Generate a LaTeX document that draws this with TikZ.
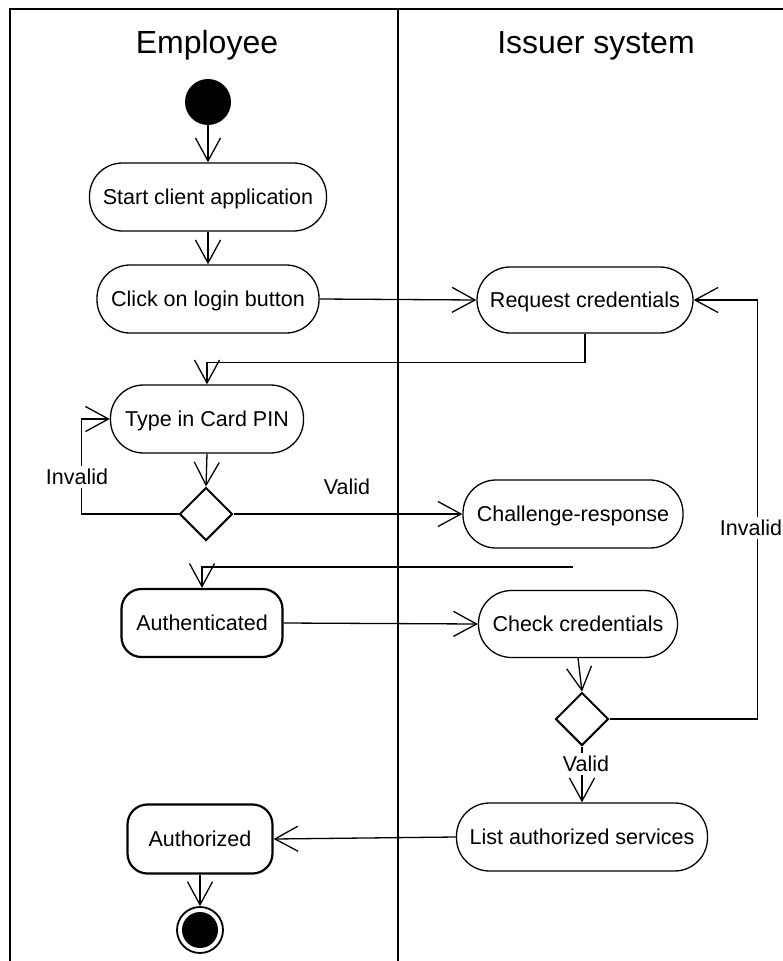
\documentclass[tikz,border=0pt]{standalone}
\usepackage{fontspec}
\setmainfont{Liberation Sans}
\usetikzlibrary{arrows.meta,shapes.geometric}

\tikzset{
  lbl/.style={font=\fontsize{21.5}{24}\selectfont, inner sep=0pt,
              text height=15.4pt, text depth=0pt},
  act/.style={lbl, draw, line width=1.3pt, rounded corners=33pt,
              minimum height=68pt},
  state/.style={lbl, draw, line width=2.2pt, rounded corners=20pt,
                minimum height=68pt},
  choice/.style={draw, diamond, line width=2pt, minimum width=53pt,
                 minimum height=53pt, inner sep=0pt},
  flow/.style={line width=1.3pt,
               -{Straight Barb[length=23pt,width=25pt,line width=1.3pt]}},
  guard/.style={lbl, fill=white, inner xsep=2pt, inner ysep=3pt},
  lane/.style={line width=2.5pt},
  title/.style={font=\fontsize{32}{36}\selectfont, inner sep=0pt, anchor=base}
}

\begin{document}
\begin{tikzpicture}[x=1pt,y=-1pt]
  \useasboundingbox (0,0) rectangle (782,961);

  % swimlanes
  \draw[lane] (10,975) -- (10,9) -- (790,9);
  \draw[lane] (398,9) -- (398,975);
  \node[title] (lane1) at (207,53) {Employee};
  \node[title] (lane2) at (596,53) {Issuer system};

  % activity nodes
  \node[circle, fill=black, minimum size=46pt, inner sep=0pt] (start) at (208,102) {};
  \node[act, minimum width=237pt] (launch) at (208,197) {Start client application};
  \node[act, minimum width=222pt] (login) at (208,299) {Click on login button};
  \node[act, minimum width=216pt, minimum height=66pt] (request) at (585,300) {Request credentials};
  \node[act, minimum width=193pt] (pin) at (207,419) {Type in Card PIN};
  \node[choice] (pinok) at (206,514) {};
  \node[act, minimum width=220pt] (challenge) at (573,514) {Challenge-response};
  \node[state, minimum width=161pt] (authd) at (202,623) {Authenticated};
  \node[act, minimum width=199pt, minimum height=67pt] (check) at (578,624) {Check credentials};
  \node[choice] (credok) at (582,719) {};
  \node[act, minimum width=251pt] (services) at (582,837) {List authorized services};
  \node[state, minimum width=145pt, minimum height=69pt] (authz) at (200,839) {Authorized};
  \node[circle, draw, line width=1.8pt, minimum size=46pt, inner sep=0pt] (stop) at (200,930) {};
  \node[circle, fill=black, minimum size=36pt, inner sep=0pt] (stopdot) at (200,930) {};

  \coordinate (respond) at (573,567);

  % control flow
  \draw[flow] (start.south) -- (launch.north);
  \draw[flow] (launch.south) -- (login.north);
  \draw[flow] (login.east) -- (request.west);
  \draw[flow] (request.south) -- ++(0,29) -| (pin.north);
  \draw[flow] (pin.south) -- (pinok.north);
  \draw[flow] (pinok.west) -- ++(-97,0) |- (pin.west);
  \node[guard] (inv1) at (77,477) {Invalid};
  \draw[flow] (pinok.east) -- (challenge.west);
  \node[lbl] (val1) at (347,487) {Valid};
  \draw[flow] (respond) -| (authd.north);
  \draw[flow] (authd.east) -- (check.west);
  \draw[flow] (check.south) -- (credok.north);
  \draw[flow] (credok.east) -- ++(148,0) |- (request.east);
  \node[guard] (inv2) at (751,528) {Invalid};
  \draw[flow] (credok.south) -- (services.north);
  \node[guard] (val2) at (586,764) {Valid};
  \draw[flow] (services.west) -- (authz.east);
  \draw[flow] (authz.south) -- (stop.north);
\end{tikzpicture}
\end{document}
